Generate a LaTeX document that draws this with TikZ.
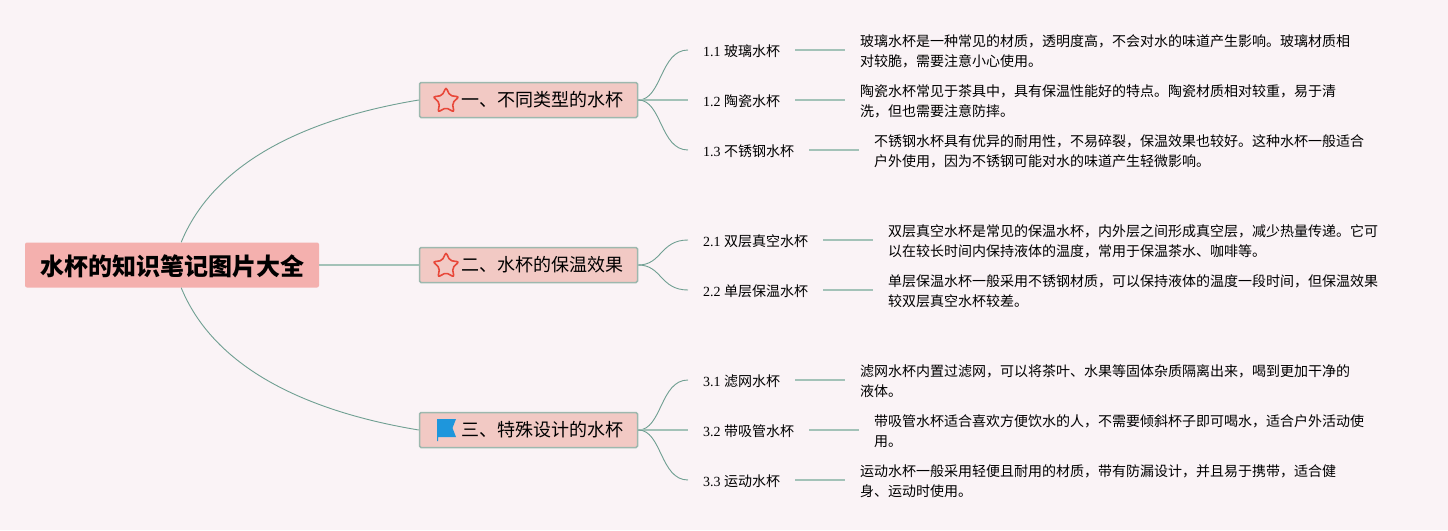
\documentclass[tikz,border=0pt]{standalone}
\usepackage{fontspec}
\usepackage{tikz}
\usetikzlibrary{shapes.geometric}
\newfontfamily\cjk{Noto Sans CJK SC}
\newfontfamily\latin{Liberation Serif}
\definecolor{paper}{HTML}{FAF3F6}
\definecolor{rootfill}{HTML}{F4B0AE}
\definecolor{branchfill}{HTML}{F2C9C4}
\definecolor{branchline}{HTML}{9DB8AE}
\definecolor{stemline}{HTML}{A3C2B8}
\definecolor{curveline}{HTML}{6F9F92}
\definecolor{starred}{HTML}{E8483A}
\definecolor{flagblue}{HTML}{1E96DC}
\tikzset{
    rootbox/.style={fill=rootfill, rounded corners=2pt, minimum width=294pt, minimum height=45pt, inner sep=0pt, text height=23pt, text depth=3pt, font=\cjk\bfseries\fontsize{24}{28}\selectfont},
    branchbox/.style={fill=branchfill, draw=branchline, line width=1.5pt, rounded corners=1.5pt, minimum width=218pt, minimum height=35pt, inner sep=0pt, text width=189pt, text height=16pt, text depth=2.4pt, align=right, font=\cjk\fontsize{18}{22}\selectfont},
    subbox/.style={anchor=west, inner xsep=15pt, inner ysep=3pt, text height=14.5pt, text depth=1.8pt, font=\fontsize{14}{20}\selectfont},
    descbox/.style={anchor=west, inner xsep=15pt, inner ysep=2pt, align=left, font=\cjk\fontsize{14}{20}\selectfont},
    staricon/.style={star, star points=5, star point ratio=2, draw=starred, line width=1.6pt, rounded corners=2pt, minimum size=27pt, inner sep=0pt},
    stem/.style={draw=stemline, line width=1.8pt},
    curve/.style={draw=curveline, line width=0.9pt}
}
\begin{document}
\begin{tikzpicture}[x=1pt, y=-1pt]
    % Background
    \fill[paper] (0,0) rectangle (1448,530);
    \useasboundingbox (0,0) rectangle (1448,530);

    % Draw central topic
    \node[rootbox] (root) at (172,265) {水杯的知识笔记图片大全};

    % Draw main branches
    \node[branchbox] (branch1) at (528.5,100) {一、不同类型的水杯};
    \node[branchbox] (branch2) at (528.5,265) {二、水杯的保温效果};
    \node[branchbox] (branch3) at (528.5,430) {三、特殊设计的水杯};

    % Draw icons
    \node[staricon] (star1) at (446,101) {};
    \node[staricon] (star2) at (446,266) {};
    \fill[flagblue] (437,419) -- (456,419) -- (452.5,428) -- (456,437) -- (438,437) -- (438,441) -- (437,441) -- cycle;

    % Draw sub topics
    \node[subbox] (sub11) at (688,50) {{\latin 1.1 }{\cjk 玻璃水杯}};
    \node[subbox] (sub12) at (688,100) {{\latin 1.2 }{\cjk 陶瓷水杯}};
    \node[subbox] (sub13) at (688,150) {{\latin 1.3 }{\cjk 不锈钢水杯}};
    \node[subbox] (sub21) at (688,240) {{\latin 2.1 }{\cjk 双层真空水杯}};
    \node[subbox] (sub22) at (688,290) {{\latin 2.2 }{\cjk 单层保温水杯}};
    \node[subbox] (sub31) at (688,380) {{\latin 3.1 }{\cjk 滤网水杯}};
    \node[subbox] (sub32) at (688,430) {{\latin 3.2 }{\cjk 带吸管水杯}};
    \node[subbox] (sub33) at (688,480) {{\latin 3.3 }{\cjk 运动水杯}};

    % Draw descriptions
    \node[descbox] (desc11) at (845,51.5) {玻璃水杯是一种常见的材质，透明度高，不会对水的味道产生影响。玻璃材质相\\对较脆，需要注意小心使用。};
    \node[descbox] (desc12) at (845,101.5) {陶瓷水杯常见于茶具中，具有保温性能好的特点。陶瓷材质相对较重，易于清\\洗，但也需要注意防摔。};
    \node[descbox] (desc13) at (859,151.5) {不锈钢水杯具有优异的耐用性，不易碎裂，保温效果也较好。这种水杯一般适合\\户外使用，因为不锈钢可能对水的味道产生轻微影响。};
    \node[descbox] (desc21) at (873,241.5) {双层真空水杯是常见的保温水杯，内外层之间形成真空层，减少热量传递。它可\\以在较长时间内保持液体的温度，常用于保温茶水、咖啡等。};
    \node[descbox] (desc22) at (873,291.5) {单层保温水杯一般采用不锈钢材质，可以保持液体的温度一段时间，但保温效果\\较双层真空水杯较差。};
    \node[descbox] (desc31) at (845,381.5) {滤网水杯内置过滤网，可以将茶叶、水果等固体杂质隔离出来，喝到更加干净的\\液体。};
    \node[descbox] (desc32) at (859,431.5) {带吸管水杯适合喜欢方便饮水的人，不需要倾斜杯子即可喝水，适合户外活动使\\用。};
    \node[descbox] (desc33) at (845,481.5) {运动水杯一般采用轻便且耐用的材质，带有防漏设计，并且易于携带，适合健\\身、运动时使用。};

    % Draw lines from the central topic
    \draw[curve] (root.68) .. controls (215,160) and (310,118) .. (branch1.west);
    \draw[stem] (root.east) -- (branch2.west);
    \draw[curve] (root.-68) .. controls (215,370) and (310,412) .. (branch3.west);

    % Draw lines from the branches
    \draw[curve] (branch1.east) .. controls (662,100) and (660,50) .. (sub11.west);
    \draw[stem] (branch1.east) -- (sub12.west);
    \draw[curve] (branch1.east) .. controls (662,100) and (660,150) .. (sub13.west);
    \draw[curve] (branch2.east) .. controls (662,265) and (660,240) .. (sub21.west);
    \draw[curve] (branch2.east) .. controls (662,265) and (660,290) .. (sub22.west);
    \draw[curve] (branch3.east) .. controls (662,430) and (660,380) .. (sub31.west);
    \draw[stem] (branch3.east) -- (sub32.west);
    \draw[curve] (branch3.east) .. controls (662,430) and (660,480) .. (sub33.west);

    % Draw lines to the descriptions
    \draw[stem] (sub11.east) -- (desc11.west |- sub11.east);
    \draw[stem] (sub12.east) -- (desc12.west |- sub12.east);
    \draw[stem] (sub13.east) -- (desc13.west |- sub13.east);
    \draw[stem] (sub21.east) -- (desc21.west |- sub21.east);
    \draw[stem] (sub22.east) -- (desc22.west |- sub22.east);
    \draw[stem] (sub31.east) -- (desc31.west |- sub31.east);
    \draw[stem] (sub32.east) -- (desc32.west |- sub32.east);
    \draw[stem] (sub33.east) -- (desc33.west |- sub33.east);
\end{tikzpicture}
\end{document}
